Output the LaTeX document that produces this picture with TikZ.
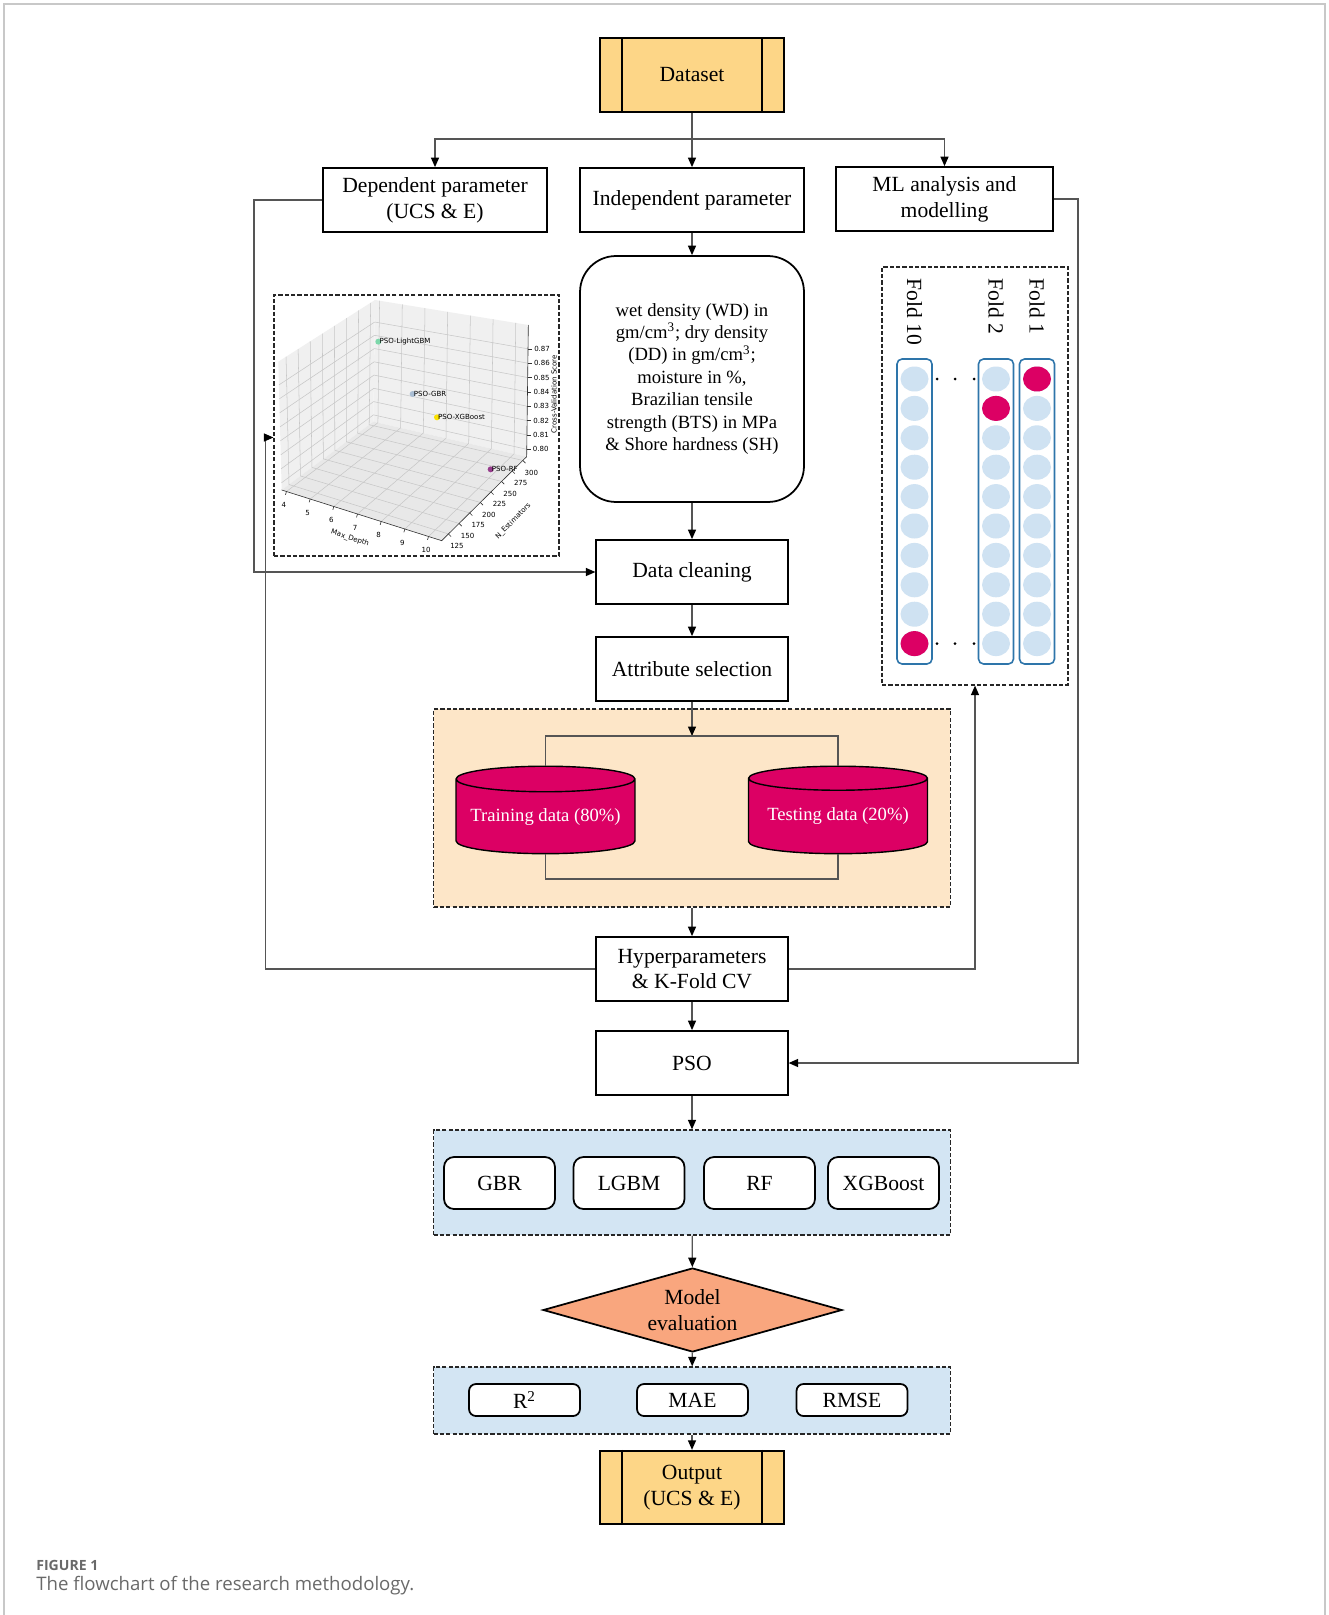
\documentclass[tikz,border=0pt]{standalone}
\usepackage{fontspec}
\setmainfont{Liberation Serif}
\newfontfamily\capfont{Open Sans}
\newfontfamily\plotfont{DejaVu Sans}
\usepackage{tikz}
\usetikzlibrary{calc}
\usetikzlibrary{arrows.meta}
\usetikzlibrary{shapes.geometric}
\definecolor{dsfill}{RGB}{253,214,135}
\definecolor{orgfill}{RGB}{253,230,200}
\definecolor{bluefill}{RGB}{211,229,243}
\definecolor{cylred}{RGB}{220,0,100}
\definecolor{evalfill}{RGB}{249,166,126}
\definecolor{foldblue}{RGB}{46,117,170}
\definecolor{foldcirc}{RGB}{207,226,242}
\definecolor{linegray}{RGB}{85,85,85}
\definecolor{framegray}{RGB}{200,200,200}
\definecolor{capgray}{RGB}{105,105,105}
\definecolor{ptgreen}{RGB}{125,215,170}
\definecolor{ptblue}{RGB}{170,190,212}
\definecolor{ptyellow}{RGB}{250,225,0}
\definecolor{ptpurple}{RGB}{150,60,140}
\newcommand{\mainfs}{\fontsize{12.3}{14.7}\selectfont}
\newcommand{\smallfs}{\fontsize{10.6}{12.8}\selectfont}
\newcommand{\plotfs}{\plotfont\fontsize{4}{5}\selectfont}
\tikzset{box/.style={draw=black,line width=1pt,fill=white,font=\mainfs,align=center,inner sep=0pt}}
\tikzset{io/.style={box,fill=dsfill,minimum width=3.68cm,minimum height=1.47cm}}
\tikzset{proc/.style={box,minimum width=3.83cm,minimum height=1.28cm}}
\tikzset{param/.style={box,minimum width=4.48cm,minimum height=1.28cm}}
\tikzset{algo/.style={box,rounded corners=0.2cm,minimum width=2.22cm,minimum height=1.04cm}}
\tikzset{metric/.style={box,rounded corners=0.14cm,minimum width=2.22cm,minimum height=0.64cm}}
\tikzset{grp/.style={draw=black!85,line width=0.7pt,dash pattern=on 2.4pt off 1.2pt}}
\tikzset{db/.style={cylinder,shape border rotate=90,aspect=0.17,draw=black,line width=0.8pt,fill=cylred,text=white,font=\smallfs,minimum width=3.58cm,minimum height=1.75cm,inner sep=0pt}}
\tikzset{foldcol/.style={draw=foldblue,line width=0.9pt,rounded corners=0.1cm,minimum width=0.7cm,minimum height=6.1cm}}
\tikzset{ball/.style={ellipse,fill=foldcirc,minimum width=0.56cm,minimum height=0.5cm,inner sep=0pt}}
\tikzset{conn/.style={draw=linegray,line width=0.75pt}}
\tikzset{arr/.style={conn,-{Triangle[length=0.19cm,width=0.16cm,color=black]}}}
\tikzset{pane/.style={fill=black!6}}
\tikzset{pgrid/.style={draw=black!22,line width=0.3pt}}
\tikzset{paxis/.style={draw=black!80,line width=0.35pt}}
\tikzset{plab/.style={font=\plotfs,inner sep=0.5pt}}

\begin{document}
\begin{tikzpicture}[x=0.02cm,y=-0.02cm]
\useasboundingbox (0,0) rectangle (1328,1615);
\draw[framegray,line width=0.8pt] (4,1615) -- (4,4) -- (1325,4) -- (1325,1615);

\node (DS) at (692,75) [io] {Dataset};
\node (DEP) at (435,200) [param] {Dependent parameter\\(UCS \& E)};
\node (IND) at (692,200) [param] {Independent parameter};
\node (ML) at (944.5,199) [param,minimum width=4.34cm] {ML analysis and\\modelling};
\node (PAR) at (692,379) [param,rounded corners=0.72cm,minimum height=4.92cm,font=\smallfs] {wet density (WD) in\\gm/cm\textsuperscript{3}; dry density\\(DD) in gm/cm\textsuperscript{3};\\moisture in \%,\\Brazilian tensile\\strength (BTS) in MPa\\\& Shore hardness (SH)};
\node (DC) at (692,572) [proc] {Data cleaning};
\node (AS) at (692,669) [proc] {Attribute selection};
\node (SPL) at (692,808) [grp,fill=orgfill,minimum width=10.34cm,minimum height=3.96cm] {};
\node (TR) at (545.5,765.5) [db,anchor=north] {Training data (80\%)};
\node (TE) at (838,765.5) [db,anchor=north] {Testing data (20\%)};
\coordinate (BT) at (692,736);
\coordinate (BB) at (692,879);
\node (HP) at (692,969) [proc] {Hyperparameters\\\& K-Fold CV};
\node (PSO) at (692,1063) [proc] {PSO};
\node (MOD) at (692,1182.5) [grp,fill=bluefill,minimum width=10.34cm,minimum height=2.1cm] {};
\foreach \n/\x in {GBR/499.5,LGBM/629,RF/759.5,XGBoost/883.5}
	\node (\n) at (\x,1183) [algo] {\n};
\node (ME) at (692.5,1310) [box,diamond,fill=evalfill,aspect=3.56,minimum width=5.98cm,minimum height=1.68cm] {Model\\evaluation};
\node (MET) at (692,1400.5) [grp,fill=bluefill,minimum width=10.34cm,minimum height=1.34cm] {};
\foreach \n/\x/\tx in {R2/524.5/R\textsuperscript{2},MAE/692.5/MAE,RMSE/852/RMSE}
	\node (\n) at (\x,1400) [metric] {\tx};
\node (OUT) at (692,1487.5) [io] {Output\\(UCS \& E)};
\foreach \n in {DS,OUT}
{
	\draw[line width=1pt] ($(\n.north west)+(23,0)$) -- ($(\n.south west)+(23,0)$);
	\draw[line width=1pt] ($(\n.north east)+(-23,0)$) -- ($(\n.south east)+(-23,0)$);
}

% folds
\node (FLD) at (975,476) [grp,fill=white,minimum width=3.72cm,minimum height=8.36cm] {};
\foreach \n/\x in {10/914.5,2/996,1/1037}
{
	\node (C\n) at (\x,511.5) [foldcol] {};
	\foreach \k in {1,...,10}
		\node at (\x,{379+29.4*(\k-1)}) [ball] {};
	\node at (\x,{379+29.4*(\n-1)}) [ball,fill=cylred] {};
	\node at (\x,278) [rotate=-90,anchor=west,font=\mainfs,inner sep=0pt] {Fold \n};
}
\foreach \y in {379,643.6}
\foreach \x in {937,955,974}
	\fill (\x,\y) circle (1.5);

% 3d plot
\node (PLT) at (416.5,425.5) [grp,fill=white,minimum width=5.7cm,minimum height=5.22cm] {};
\begin{scope}[shift={(260,290)},scale=1/3]
\coordinate (Lb) at (65,600);
\coordinate (Lt) at (55,215);
\coordinate (Bb) at (340,395);
\coordinate (Bt) at (345,30);
\coordinate (Rb) at (800,500);
\coordinate (Rt) at (805,105);
\coordinate (Fb) at (545,752);
\fill[pane] (Lb) -- (Bb) -- (Bt) -- (Lt) -- cycle;
\fill[pane] (Bb) -- (Rb) -- (Rt) -- (Bt) -- cycle;
\fill[pane,fill=black!9] (Lb) -- (Fb) -- (Rb) -- (Bb) -- cycle;
\foreach \v [count=\i from 0] in {4,...,10}
{
	\pgfmathsetmacro{\tm}{0.03+0.148*\i}
	\draw[pgrid] ($(Lb)!\tm!(Fb)$) -- ($(Bb)!\tm!(Rb)$) -- ($(Bt)!\tm!(Rt)$);
	\draw[paxis] ($(Lb)!\tm!(Fb)$) -- ++(-3,10);
	\node[plab,xshift=-0.05cm,yshift=-0.27cm] at ($(Lb)!\tm!(Fb)$) {\v};
}
\foreach \v [count=\i from 0] in {125,150,175,200,225,250,275,300}
{
	\pgfmathsetmacro{\tn}{0.08+0.125*\i}
	\draw[pgrid] ($(Fb)!\tn!(Rb)$) -- ($(Lb)!\tn!(Bb)$) -- ($(Lt)!\tn!(Bt)$);
	\draw[paxis] ($(Fb)!\tn!(Rb)$) -- ++(8,8);
	\node[plab,xshift=0.17cm,yshift=-0.24cm] at ($(Fb)!\tn!(Rb)$) {\v};
}
\foreach \j in {0,...,7}
{
	\pgfmathsetmacro{\zs}{0.056+0.109*\j}
	\draw[pgrid] ($(Lb)!\zs!(Lt)$) -- ($(Bb)!\zs!(Bt)$) -- ($(Rb)!\zs!(Rt)$);
	\draw[paxis] ($(Rb)!\zs!(Rt)$) -- ++(12,0);
	\node[plab,anchor=west,xshift=0.1cm] at ($(Rb)!\zs!(Rt)$) {0.8\j};
}
\draw[paxis] (Lb) -- (Fb) -- (Rb) -- (Rt);
\node[plab,rotate=-18] at (270,745) {Max\_Depth};
\node[plab,rotate=45] at (760,694) {N\_Estimators};
\node[plab,rotate=90] at (882,312) {Cross-Validation Score};
\foreach \a/\b/\c/\lab in {355/155/ptgreen/PSO-LightGBM,458/312/ptblue/PSO-GBR,531/382/ptyellow/PSO-XGBoost,692/538/ptpurple/PSO-RF}
{
	\fill[\c] (\a,\b) circle (9);
	\node[plab,anchor=west] at (\a,\b) {\lab};
}
\end{scope}

% connectors
\coordinate (BR) at (692,139);
\draw[conn] (DS) -- (BR);
\draw[arr] (BR) -- (IND);
\draw[arr] (BR) -| (DEP);
\draw[arr] (BR) -| (ML);
\draw[arr] (IND) -- (PAR);
\draw[arr] (PAR) -- (DC);
\draw[arr] (DC) -- (AS);
\draw[arr] (AS) -- (BT);
\draw[conn] (TR.north) |- (BT) -| (TE.north);
\draw[conn] (TR.south) |- (BB) -| (TE.south);
\draw[arr] (SPL) -- (HP);
\draw[arr] (HP) -- (PSO);
\draw[arr] (PSO) -- (MOD);
\draw[arr] (MOD) -- (ME);
\draw[arr] (ME) -- (MET);
\draw[arr] (MET) -- (OUT);
\draw[arr] (DEP.west) -- ++(-68,0) |- (DC.west);
\draw[arr] (HP.west) -| ($(PLT.west)+(-8,12)$) -- ($(PLT.west)+(0,12)$);
\draw[arr] (HP.east) -| (FLD.south);
\draw[arr] (ML.east) -- ++(24,0) |- (PSO.east);

\node (CAP1) at (36,1570) [anchor=base west,inner sep=0pt,text=capgray,font=\capfont\bfseries\fontsize{8}{9}\selectfont] {FIGURE 1};
\node (CAP2) at (36,1590) [anchor=base west,inner sep=0pt,text=capgray,font=\capfont\fontsize{10.6}{12}\selectfont] {The flowchart of the research methodology.};
\end{tikzpicture}
\end{document}
